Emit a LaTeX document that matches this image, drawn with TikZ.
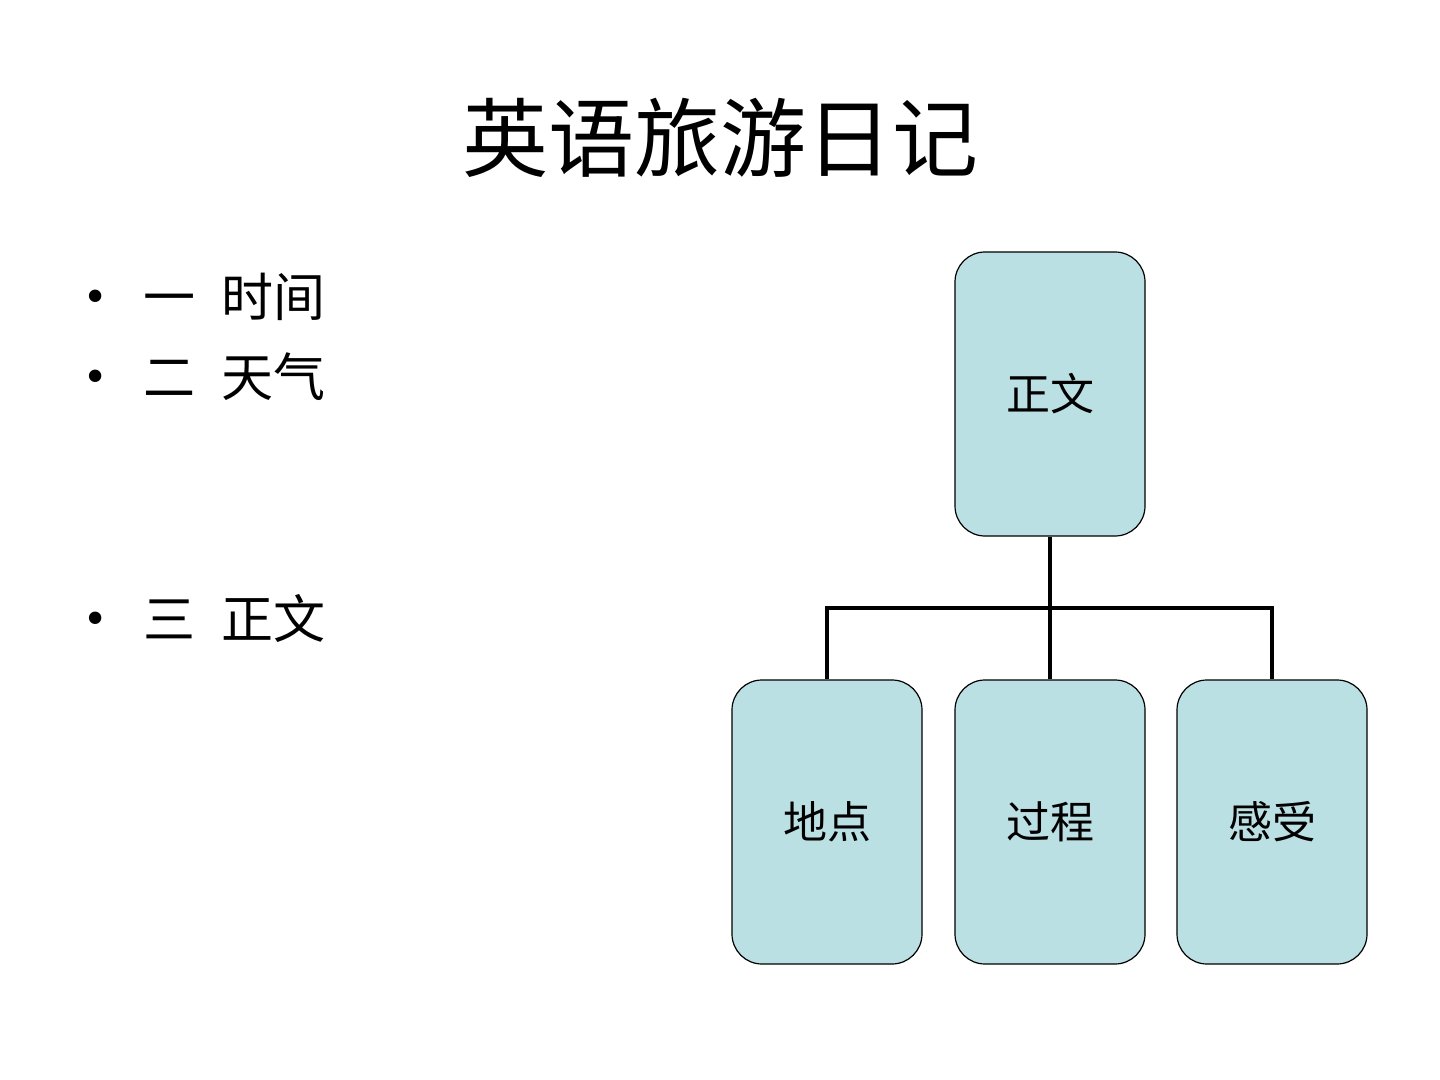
\documentclass[tikz,border=0pt]{standalone}
\usepackage{fontspec}
\setmainfont{Liberation Serif}
\newfontfamily\cjk{Noto Sans CJK SC}
\definecolor{boxblue}{HTML}{BBE0E3}
\begin{document}
\begin{tikzpicture}[x=0.5pt,y=-0.5pt,
  card/.style={draw=black,fill=boxblue,line width=0.6pt,rounded corners=15pt,
    minimum width=95pt,minimum height=142pt,inner sep=0pt,font=\cjk\fontsize{22}{26}\selectfont},
  conn/.style={line width=1.8pt},
  bul/.style={anchor=center,inner sep=0pt,font=\fontsize{26}{30}\selectfont},
  item/.style={anchor=west,inner sep=0pt,font=\cjk\fontsize{26}{30}\selectfont}]
\useasboundingbox (0,0) rectangle (1440,1080);
\node[inner sep=0pt,font=\cjk\fontsize{43}{50}\selectfont] (title) at (720,138) {英语旅游日记};
\node[bul] (b1) at (96,302) {•};
\node[item] (t1) at (143,297) {一\hspace{0.5em}时间};
\node[bul] (b2) at (96,382) {•};
\node[item] (t2) at (143,377) {二\hspace{0.5em}天气};
\node[bul] (b3) at (96,624) {•};
\node[item] (t3) at (143,619) {三\hspace{0.5em}正文};
\node[card] (top) at (1050,394) {正文};
\node[card] (c1) at (827,822) {地点};
\node[card] (c2) at (1050,822) {过程};
\node[card] (c3) at (1272,822) {感受};
\coordinate (bus) at (1050,608);
\draw[conn] (top.south) -- (top.south |- bus);
\draw[conn] (c1.north) -- (c1.north |- bus) -| (c3.north);
\draw[conn] (c2.north) -- (c2.north |- bus);
\end{tikzpicture}
\end{document}
